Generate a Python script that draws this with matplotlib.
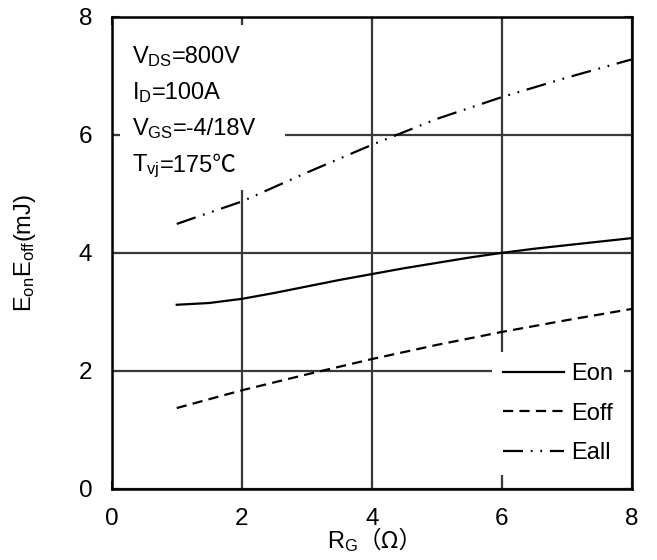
import numpy as np
import matplotlib
matplotlib.use("Agg")
import matplotlib.pyplot as plt
from matplotlib.patches import Rectangle

plt.rcParams['font.family'] = ['Liberation Sans', 'Noto Sans CJK SC', 'DejaVu Sans']
plt.rcParams['mathtext.fontset'] = 'custom'
plt.rcParams['mathtext.rm'] = 'Liberation Sans'
plt.rcParams['mathtext.it'] = 'Liberation Sans'
plt.rcParams['font.size'] = 17

# values
rg = [1, 1.5, 2, 2.5, 3, 3.5, 4, 4.5, 5, 5.5, 6, 6.5, 7, 7.5, 8]
e_on = [3.12, 3.15, 3.22, 3.32, 3.43, 3.54, 3.64, 3.74, 3.83, 3.92, 4.00, 4.07, 4.13, 4.19, 4.25]

rg_off = [1, 2, 3, 4, 5, 6, 7, 8]
e_off = [1.37, 1.67, 1.94, 2.20, 2.44, 2.66, 2.86, 3.05]

rg_all = [1, 2, 3, 4, 5, 6, 7, 8]
e_all = [4.49, 4.87, 5.36, 5.83, 6.27, 6.64, 6.97, 7.28]

# test conditions: symbol (mathtext) + value (plain text)
cond_sym = [r"$\mathrm{V_{DS}}$", r"$\mathrm{I_D}$", r"$\mathrm{V_{GS}}$", r"$\mathrm{T_{vj}}$"]
cond_val = ["=800V", "=100A", "=-4/18V", "=175℃"]

ticks = [0, 2, 4, 6, 8]

fig = plt.figure(figsize=(6.57, 5.6), dpi=100)
ax = fig.add_axes([0.170, 0.127, 0.792, 0.843])

ax.set_xlim(0, 8)
ax.set_ylim(0, 8)
ax.set_xticks(ticks)
ax.set_yticks(ticks)
ax.set_axisbelow(True)
ax.grid(True, color='#3a3a3a', linewidth=1.6)
ax.tick_params(direction='in', length=6, width=1.5, color='#3a3a3a',
               top=True, right=True, labelsize=17.5)
ax.tick_params(axis='x', pad=14)
ax.tick_params(axis='y', pad=14)
for s in ax.spines.values():
    s.set_linewidth(1.8)
    s.set_color('black')

# white patch behind the conditions text (hides the grid there)
ax.add_patch(Rectangle((0.016, 0.633), 0.317, 0.35, transform=ax.transAxes,
                       facecolor='white', edgecolor='none', zorder=0.8))

ax.plot(rg, e_on, color='black', lw=1.6, label='Eon', zorder=2)
ax.plot(rg_off, e_off, color='black', lw=1.6, linestyle=(0, (4.6, 2.8)),
        label='Eoff', zorder=2)
ax.plot(rg_all, e_all, color='black', lw=1.6,
        linestyle=(0, (9, 3.5, 0.8, 3.5, 0.8, 3.5)), label='Eall', zorder=2)

for i, (sym, val) in enumerate(zip(cond_sym, cond_val)):
    yb = 0.9025 - i * 0.0768
    t = ax.text(0.039, yb, sym, transform=ax.transAxes,
                ha='left', va='baseline', fontsize=17, zorder=3)
    ax.annotate(val, xy=(1.0, yb), xycoords=(t, 'axes fraction'),
                ha='left', va='baseline', fontsize=17, zorder=3,
                annotation_clip=False)

leg = ax.legend(loc='lower right', bbox_to_anchor=(0.9846, 0.0297),
                borderaxespad=0, frameon=True, fancybox=False,
                handlelength=2.6, handletextpad=0.3, borderpad=0.45,
                labelspacing=0.75, fontsize=17)
leg.get_frame().set_facecolor('white')
leg.get_frame().set_edgecolor('none')
leg.get_frame().set_alpha(1)
leg.set_zorder(3)

ax.set_ylabel(r"$\mathrm{E_{on}E_{off}}$(mJ)", fontsize=17)
ax.yaxis.set_label_coords(-0.142, 0.5)

# x label: R_G with full-width brackets
t1 = ax.text(0.414, -0.125, r"$\mathrm{R_G}$", transform=ax.transAxes,
             ha='left', va='baseline', fontsize=17)
ax.annotate("（Ω）", xy=(1.0, -0.125), xycoords=(t1, 'axes fraction'),
            ha='left', va='baseline', fontsize=17,
            family=['Noto Sans CJK SC', 'DejaVu Sans'], annotation_clip=False)

fig.savefig("out.png", dpi=100)
